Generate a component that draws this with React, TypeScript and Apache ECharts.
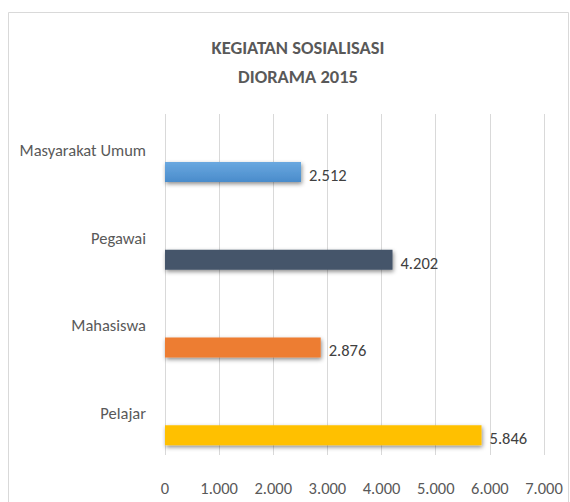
import React, { useEffect, useRef } from "react";
import * as echarts from "echarts";

const categories = ["Pelajar", "Mahasiswa", "Pegawai", "Masyarakat Umum"];
const values = [5846, 2876, 4202, 2512];
const barColors = ["#ffc000", "#ed7d31", "#44546a", "#5b9bd5"];
const xTicks = [0, 1000, 2000, 3000, 4000, 5000, 6000, 7000];
const titleLines = ["KEGIATAN SOSIALISASI", "DIORAMA 2015"];

const FONT = 'Carlito, Lato, sans-serif';

const fmt = (v: number) => {
  const s = Math.round(v).toString();
  return s.replace(/\B(?=(\d{3})+(?!\d))/g, ".");
};

export default function App() {
  const ref = useRef<HTMLDivElement>(null);
  useEffect(() => {
    if (!ref.current) return;
    const chart = echarts.init(ref.current, null, { renderer: "svg" });
    chart.setOption({
      animation: false,
      backgroundColor: "#ffffff",
      title: {
        text: titleLines.join("\n"),
        left: 293,
        textAlign: "center",
        top: 28,
        textStyle: {
          fontFamily: FONT,
          fontSize: 18.5,
          fontWeight: "bold",
          color: "#595959",
          lineHeight: 29,
        },
      },
      graphic: [
        {
          type: "rect",
          shape: { x: 8.5, y: 12.5, width: 560, height: 495 },
          style: { fill: "none", stroke: "#d9d9d9", lineWidth: 1 },
          silent: true,
        },
      ],
      grid: [
        { left: 165, width: 379, top: 114, height: 341 },
        { left: 165, width: 379, top: 128, height: 351 },
      ],
      xAxis: [
        {
          gridIndex: 0,
          type: "value",
          min: xTicks[0],
          max: xTicks[xTicks.length - 1],
          interval: 1000,
          axisLine: { show: false },
          axisTick: { show: false },
          splitLine: { show: true, lineStyle: { color: "#d9d9d9", width: 1 } },
          axisLabel: {
            margin: 24,
            fontFamily: FONT,
            fontSize: 16.5,
            color: "#595959",
            formatter: (v: number) => fmt(v),
          },
        },
        {
          gridIndex: 1,
          type: "value",
          min: xTicks[0],
          max: xTicks[xTicks.length - 1],
          show: false,
          splitLine: { show: false },
        },
      ],
      yAxis: [
        {
          gridIndex: 0,
          type: "category",
          data: categories,
          show: false,
        },
        {
          gridIndex: 1,
          type: "category",
          data: categories,
          axisLine: { show: false },
          axisTick: { show: false },
          splitLine: { show: false },
          axisLabel: {
            interval: 0,
            hideOverlap: false,
            margin: 19,
            fontFamily: FONT,
            fontSize: 16.5,
            color: "#595959",
            lineHeight: 22,
            formatter: (v: string) => v + "\n \n ",
          },
        },
      ],
      series: [
        {
          type: "bar",
          xAxisIndex: 1,
          yAxisIndex: 1,
          barWidth: 20,
          data: values.map((v, i) => ({
            value: v,
            itemStyle: {
              color:
                i === 3
                  ? new echarts.graphic.LinearGradient(0, 0, 0, 1, [
                      { offset: 0, color: "#6aa8e0" },
                      { offset: 1, color: "#4a8ccb" },
                    ])
                  : barColors[i],
              shadowColor: "rgba(0,0,0,0.45)",
              shadowBlur: 4,
              shadowOffsetX: 1,
              shadowOffsetY: 2,
            },
          })),
          label: {
            show: true,
            position: "right",
            distance: 8,
            offset: [0, 3],
            fontFamily: FONT,
            fontSize: 16.5,
            color: "#404040",
            formatter: (p: any) => fmt(p.value),
          },
        },
      ],
    });
    return () => chart.dispose();
  }, []);
  return (
    <div
      ref={ref}
      style={{ position: "fixed", left: 0, top: 0, width: 570, height: 502 }}
    />
  );
}
